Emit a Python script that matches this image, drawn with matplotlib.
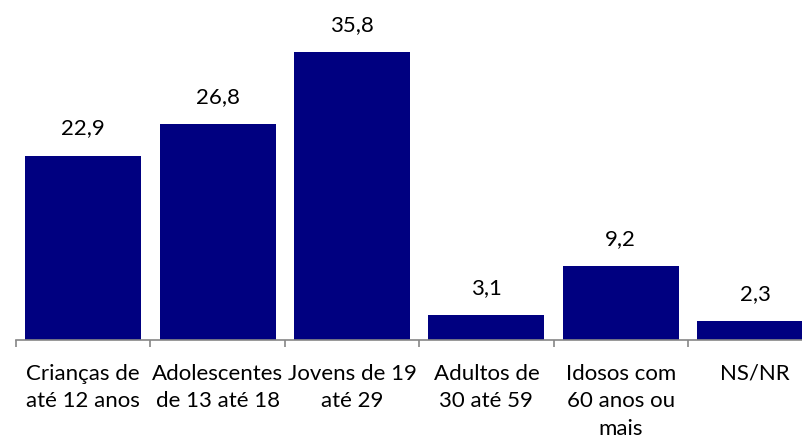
import matplotlib
matplotlib.use("Agg")
import matplotlib.pyplot as plt
import numpy as np

categories = ["Crianças de\naté 12 anos", "Adolescentes\nde 13 até 18", "Jovens de 19\naté 29",
              "Adultos de\n30 até 59", "Idosos com\n60 anos ou\nmais", "NS/NR"]
values = [22.9, 26.8, 35.8, 3.1, 9.2, 2.3]
value_labels = ["22,9", "26,8", "35,8", "3,1", "9,2", "2,3"]

plt.rcParams['font.family'] = ['Lato', 'DejaVu Sans']

fig = plt.figure(figsize=(8.03, 4.41), dpi=100)
W, H = 803, 441
left_px, bottom_px = 16, 340
cat_w = 134.4
ymax = 40
ppu = 8.053
top_px = bottom_px - ymax * ppu
ax = fig.add_axes([left_px / W, (H - bottom_px) / H, 6 * cat_w / W, (bottom_px - top_px) / H])

x = np.arange(len(values))
ax.bar(x, values, width=0.863, color="#000080", edgecolor="none")
ax.set_xlim(-0.5, len(values) - 0.5)
ax.set_ylim(0, ymax)

for xi, v, lab in zip(x, values, value_labels):
    ax.annotate(lab, (xi, v), xytext=(0, 19.5), textcoords="offset points",
                ha="center", va="center", fontsize=16, color="black")

for s in ["top", "right", "left"]:
    ax.spines[s].set_visible(False)
ax.spines["bottom"].set_color("#868686")
ax.spines["bottom"].set_linewidth(1.2)
ax.set_yticks([])

ax.set_xticks(x)
ax.set_xticklabels(categories, fontsize=16, linespacing=1.47, ha="center", va="top")
ax.tick_params(axis="x", which="major", length=0, pad=17)
ax.set_xticks(np.arange(-0.5, len(values) + 0.5, 1), minor=True)
ax.tick_params(axis="x", which="minor", length=5, width=1.2, color="#868686", direction="out")

fig.savefig("out.png", dpi=100)
